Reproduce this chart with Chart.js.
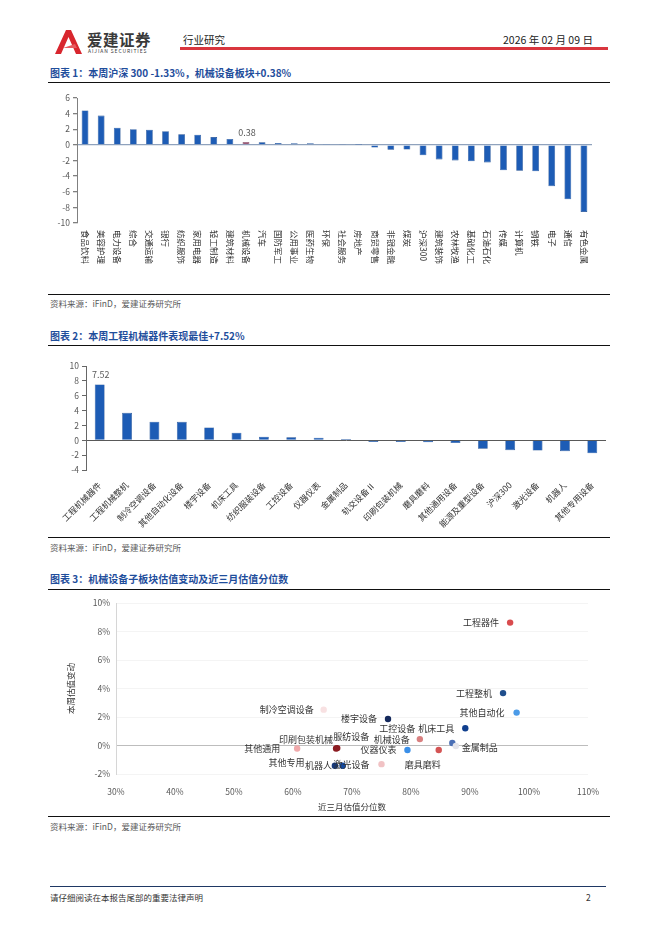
<!DOCTYPE html>
<html>
<head>
<meta charset="utf-8">
<script src="https://cdn.jsdelivr.net/npm/chart.js@4.4.1/dist/chart.umd.min.js"></script>
<style>
body{margin:0;width:662px;height:936px;background:#fff;position:relative;overflow:hidden;
  font-family:"Noto Sans CJK SC","Noto Sans",sans-serif;}
.abs{position:absolute;line-height:1;white-space:nowrap}
.ttl{left:50px;color:#1f4e9c;font-weight:bold;font-size:10px}
.rule{left:48px;width:562px;height:1.3px;background:#111}
.src{left:50px;font-size:8.5px;color:#595959}
canvas{position:absolute}
</style>
</head>
<body>
<!-- header -->
<svg class="abs" style="left:55px;top:29px" width="28" height="25" viewBox="0 0 28 25">
  <path d="M0 25 L11 1 L16 1 L27 25 L21 25 L13.5 8 L6 25 Z" fill="#d8262e"/>
  <path d="M8 19 L20 15 L22 19 Z" fill="#e85a5f"/>
</svg>
<div class="abs" style="left:87px;top:32px;font-size:15.5px;font-weight:bold;color:#3a3a3a;letter-spacing:0.5px">爱建证券</div>
<div class="abs" style="left:88px;top:48px;font-size:5px;color:#3a3a3a;letter-spacing:0.9px">AIJIAN SECURITIES</div>
<div class="abs" style="left:183px;top:35px;font-size:10.5px;color:#222">行业研究</div>
<div class="abs" style="left:503px;top:35px;font-size:10.5px;color:#222">2026 年 02 月 09 日</div>
<div class="abs" style="left:180px;top:47px;width:428px;height:2.5px;background:#d9363e"></div>

<div class="abs ttl" style="top:68px">图表 1：本周沪深 300 -1.33%，机械设备板块+0.38%</div>
<div class="abs rule" style="top:82px"></div>
<canvas id="c1" width="570" height="195" style="left:40px;top:88px"></canvas>
<div class="abs rule" style="top:294px"></div>
<div class="abs src" style="top:299px">资料来源：iFinD，爱建证券研究所</div>

<div class="abs ttl" style="top:331px">图表 2：本周工程机械器件表现最佳+7.52%</div>
<div class="abs rule" style="top:345px"></div>
<canvas id="c2" width="570" height="170" style="left:40px;top:358px"></canvas>
<div class="abs rule" style="top:537px"></div>
<div class="abs src" style="top:543px">资料来源：iFinD，爱建证券研究所</div>

<div class="abs ttl" style="top:574px">图表 3：机械设备子板块估值变动及近三月估值分位数</div>
<div class="abs rule" style="top:589px"></div>
<canvas id="c3" width="570" height="222" style="left:40px;top:592px"></canvas>
<div class="abs rule" style="top:816px"></div>
<div class="abs src" style="top:822px">资料来源：iFinD，爱建证券研究所</div>

<div class="abs" style="left:50px;top:886px;width:556px;height:1.3px;background:#1f3864"></div>
<div class="abs" style="left:50px;top:893px;font-size:8.5px;color:#333">请仔细阅读在本报告尾部的重要法律声明</div>
<div class="abs" style="left:586px;top:893px;font-size:8.5px;color:#333">2</div>

<script>
// 图表1 行业周涨跌幅(%)
const industries = ['食品饮料','美容护理','电力设备','综合','交通运输','银行','纺织服饰','家用电器','轻工制造','建筑材料',
  '机械设备','汽车','国防军工','公用事业','医药生物','环保','社会服务','房地产','商贸零售','非银金融','煤炭','沪深300',
  '建筑装饰','农林牧渔','基础化工','石油石化','传媒','计算机','钢铁','电子','通信','有色金属'];
const industryChg = [4.4,3.75,2.2,2.0,1.95,1.75,1.35,1.3,1.0,0.75,0.38,0.33,0.25,0.22,0.2,0.12,0.05,0.02,-0.34,-0.62,
  -0.6,-1.33,-1.86,-1.99,-2.11,-2.24,-3.25,-3.3,-3.38,-5.28,-6.97,-8.58];
const industryTicks = [-10,-8,-6,-4,-2,0,2,4,6];

// 图表2 机械子板块周涨跌幅(%)
const subSectors = ['工程机械器件','工程机械整机','制冷空调设备','其他自动化设备','楼宇设备','机床工具','纺织服装设备',
  '工控设备','仪器仪表','金属制品','轨交设备Ⅱ','印刷包装机械','磨具磨料','其他通用设备','能源及重型设备','沪深300',
  '激光设备','机器人','其他专用设备'];
const subChg = [7.52,3.7,2.5,2.49,1.74,1.03,0.49,0.4,0.36,0.18,-0.22,-0.22,-0.27,-0.36,-1.12,-1.33,-1.38,-1.47,-1.74];

// 图表3 估值分位数(%) 与 本周估值变动(%)
const valNames = ['工程器件','工程整机','其他自动化','楼宇设备','机床工具','工控设备','机械设备','金属制品','仪器仪表',
  '磨具磨料','激光设备','机器人','其他专用','其他通用','印刷包装机械','服纺设备','制冷空调设备'];
const valPctile = [96.8,95.6,97.9,76.1,89.2,87.0,81.5,87.6,79.4,84.7,75.0,67.1,68.4,60.7,67.3,67.5,65.2];
const valChange = [8.63,3.68,2.31,1.86,1.21,0.18,0.45,-0.03,-0.32,-0.32,-1.31,-1.42,-1.42,-0.21,-0.21,-0.18,2.52];

// styles for chart 3
const dotColors = ['#d94b4e','#1f4e8c','#4b9be8','#14295c','#103f8e','#4a6fb5','#d98080','#e3e3ea','#3a8fe8',
  '#d45454','#f1c2c4','#17397a','#1349a0','#f0a9ab','#8c1c22','#8c1c22','#f8e1e2'];
const labelOffsets = [[-11,0,'right'],[-11,0,'right'],[-12,0,'right'],[-11,0,'right'],[-11,0,'right'],
  [-37,-14,'right'],[-10,0,'right'],[6,1.5,'left'],[-11,0,'right'],[-34,15,'left'],[-12,0.5,'right'],
  [-3,0,'right'],[-38,-3,'right'],[-17,0.5,'right'],[-3,-8.5,'right'],[-4,-12,'left'],[-10,0,'right']];

const FONT = '"Noto Sans CJK SC", "Noto Sans", sans-serif';
const tickFont = {family: FONT, size: 8.5};
Chart.defaults.font.family = FONT;

// vertical category labels reading top to bottom
const vertLabels = {
  id: 'vertLabels',
  afterDraw(chart) {
    const xs = chart.scales.x, ctx = chart.ctx;
    ctx.save();
    ctx.font = '8.5px ' + FONT;
    ctx.fillStyle = '#333';
    ctx.textAlign = 'left';
    ctx.textBaseline = 'middle';
    chart.data.labels.forEach((lab, i) => {
      ctx.save();
      ctx.translate(xs.getPixelForTick(i), xs.top + 7);
      ctx.rotate(Math.PI / 2);
      ctx.fillText(lab, 0, 0);
      ctx.restore();
    });
    ctx.restore();
  }
};

// value label over one bar
function valueLabel(idx) {
  return {
    id: 'valueLabel',
    afterDatasetsDraw(chart) {
      const bar = chart.getDatasetMeta(0).data[idx];
      const ctx = chart.ctx;
      ctx.save();
      ctx.font = '9px ' + FONT;
      ctx.fillStyle = '#595959';
      ctx.textAlign = 'center';
      ctx.textBaseline = 'bottom';
      ctx.fillText(chart.data.datasets[0].data[idx].toFixed(2), bar.x + 1, bar.y - 5);
      ctx.restore();
    }
  };
}

new Chart(document.getElementById('c1'), {
  type: 'bar',
  data: {
    labels: industries,
    datasets: [{
      data: industryChg,
      backgroundColor: industries.map(n => n === '机械设备' ? '#9d5b78' : '#1d5cb5'),
      borderColor: industries.map(n => n === '机械设备' ? '#6e3a55' : '#17478e'),
      borderWidth: 0.6,
      categoryPercentage: 1,
      barPercentage: 0.42
    }]
  },
  options: {
    responsive: false,
    animation: false,
    layout: {padding: {top: 10, right: 18}},
    plugins: {legend: {display: false}, tooltip: {enabled: false}},
    scales: {
      x: {
        grid: {display: false},
        border: {display: false},
        ticks: {display: false},
        afterFit: s => { s.height = 60; }
      },
      y: {
        min: -10, max: 6,
        afterBuildTicks: s => { s.ticks = industryTicks.map(v => ({value: v})); },
        ticks: {color: '#595959', font: tickFont, padding: 3},
        border: {color: '#808080'},
        grid: {
          color: c => c.tick && c.tick.value === 0 ? '#8fa2bd' : 'rgba(0,0,0,0)',
          tickColor: '#808080', tickLength: 4, lineWidth: 1.3
        },
        afterFit: s => { s.width = 37; }
      }
    }
  },
  plugins: [vertLabels, valueLabel(industries.indexOf('机械设备'))]
});

new Chart(document.getElementById('c2'), {
  type: 'bar',
  data: {
    labels: subSectors,
    datasets: [{
      data: subChg,
      backgroundColor: '#1d5cb5',
      borderColor: '#17478e',
      borderWidth: 0.6,
      categoryPercentage: 1,
      barPercentage: 0.36
    }]
  },
  options: {
    responsive: false,
    animation: false,
    layout: {padding: {top: 7, right: 4}},
    plugins: {legend: {display: false}, tooltip: {enabled: false}},
    scales: {
      x: {
        grid: {display: false},
        border: {display: false},
        ticks: {color: '#333', font: tickFont, minRotation: 45, maxRotation: 45, autoSkip: false, padding: 2},
        afterFit: s => { s.height = 58; }
      },
      y: {
        min: -4, max: 10,
        ticks: {stepSize: 2, color: '#595959', font: tickFont, padding: 3},
        border: {color: '#666'},
        grid: {
          color: c => c.tick && c.tick.value === 0 ? '#595959' : 'rgba(0,0,0,0)',
          tickColor: '#666', tickLength: 4, lineWidth: 1
        },
        afterFit: s => { s.width = 46; }
      }
    }
  },
  plugins: [valueLabel(0)]
});

const dotLabels = {
  id: 'dotLabels',
  afterDatasetsDraw(chart) {
    const ctx = chart.ctx;
    const pts = chart.getDatasetMeta(0).data;
    ctx.save();
    ctx.font = '9px ' + FONT;
    ctx.fillStyle = '#333';
    ctx.textBaseline = 'middle';
    pts.forEach((p, i) => {
      const o = labelOffsets[i];
      ctx.textAlign = o[2];
      ctx.fillText(valNames[i], p.x + o[0], p.y + o[1]);
    });
    ctx.restore();
  }
};

new Chart(document.getElementById('c3'), {
  type: 'scatter',
  data: {
    datasets: [{
      data: valNames.map((n, i) => ({x: valPctile[i], y: valChange[i]})),
      pointBackgroundColor: dotColors,
      pointBorderWidth: 0,
      pointRadius: 3.2
    }]
  },
  options: {
    responsive: false,
    animation: false,
    layout: {padding: {top: 8, right: 22}},
    plugins: {legend: {display: false}, tooltip: {enabled: false}},
    scales: {
      x: {
        min: 30, max: 110,
        ticks: {stepSize: 10, callback: v => v + '%', color: '#595959', font: tickFont, padding: 5},
        grid: {display: false},
        border: {display: false},
        title: {display: true, text: '近三月估值分位数', color: '#333', font: {family: FONT, size: 8.5}, padding: {top: 2, bottom: 2}},
        afterFit: s => { s.height = 40; }
      },
      y: {
        min: -2, max: 10,
        ticks: {stepSize: 2, callback: v => v + '%', color: '#595959', font: tickFont, padding: 6},
        grid: {
          color: c => c.tick && c.tick.value === 0 ? '#bdbdbd' : '#f4f4f4',
          drawTicks: false
        },
        border: {color: '#d6d6d6'},
        title: {display: true, text: '本周估值变动', color: '#333', font: {family: FONT, size: 8.5}, padding: {top: 26, bottom: 2}},
        afterFit: s => { s.width = 76; }
      }
    }
  },
  plugins: [dotLabels]
});
</script>
</body>
</html>
